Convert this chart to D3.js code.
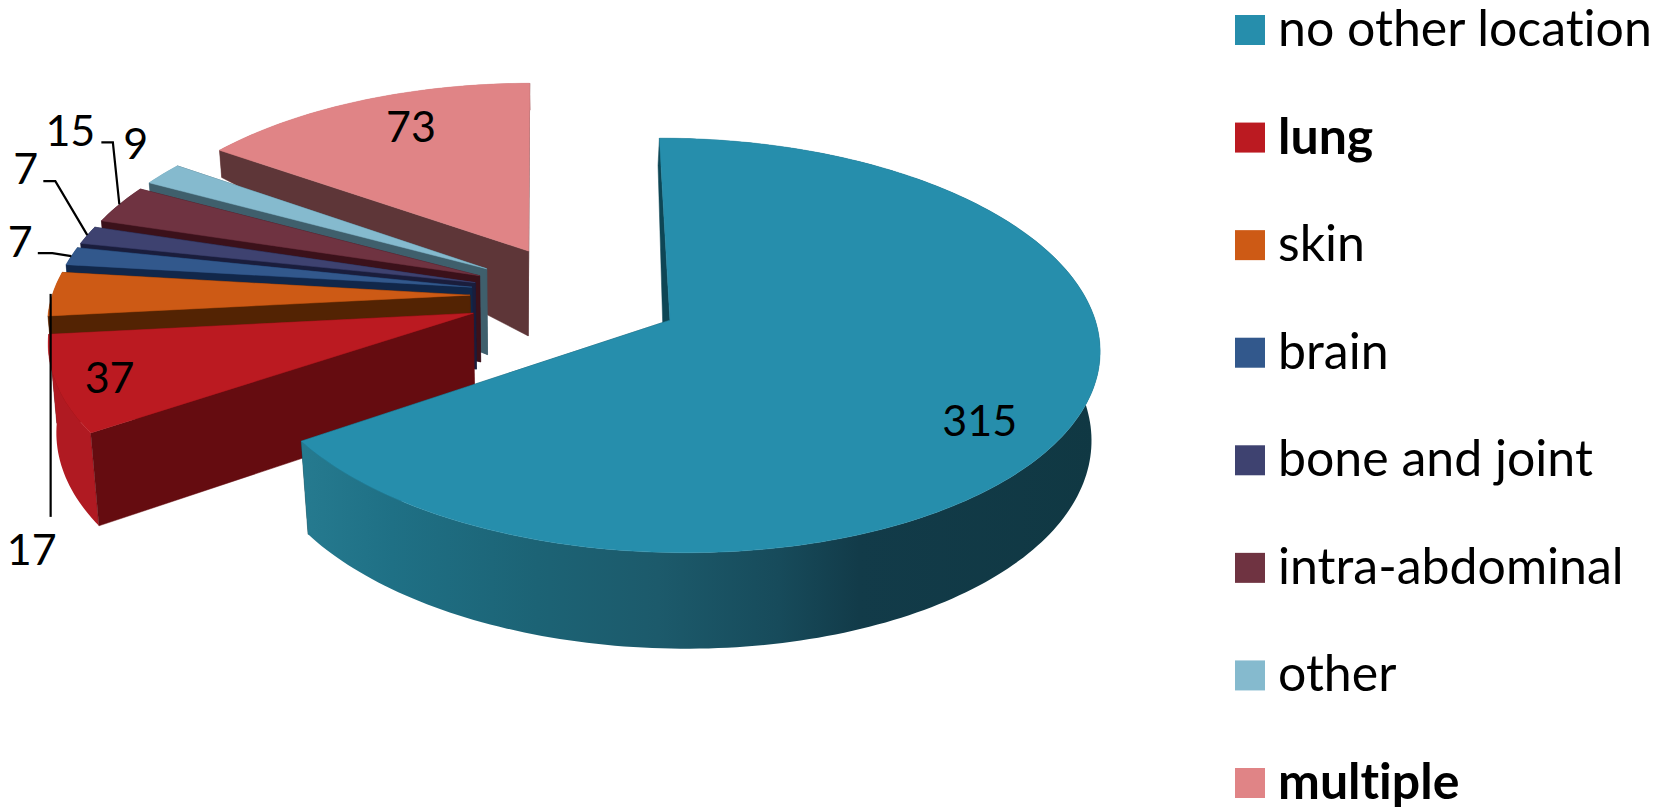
<!DOCTYPE html>
<html>
<head>
<meta charset="utf-8">
<style>
html, body { margin: 0; padding: 0; background: #fff; }
svg { display: block; }
text { font-family: Lato, "Open Sans", sans-serif; fill: #000; font-variant-ligatures: none; }
</style>
<script src="https://cdn.jsdelivr.net/npm/d3@7"></script>
</head>
<body>
<svg id="chart" width="1665" height="809"></svg>
<script>
// Metastasis sites, clockwise from twelve o'clock
const categories = ["no other location", "lung", "skin", "brain", "bone and joint", "intra-abdominal", "other", "multiple"];
const values = [315, 37, 17, 7, 7, 15, 9, 73];
const boldCategories = ["lung", "multiple"];

const topColors = ["#268eac", "#bb1a21", "#cd5a15", "#32588c", "#3e4270", "#6f3341", "#85bace", "#e08486"];
const wallColors = ["#0e4655", "#650c10", "#532303", "#11274a", "#1a1d3c", "#3b111a", "#3f5f6c", "#5e3638"];
const rimColors = ["url(#tealRim)", "#b01a22", "#a8480f", "#27466f", "#30345a", "#562833", "#6a95a5", "#b36a6c"];

// Text position relative to the middle of each slice's rim
const labelOffset = [[-94, -2], [53, -7], [-21, 256], [-51, -15], [-61.5, -67], [-49, -74], [-27, -31], [50, 26]];
// Leader lines as bends relative to the rim middle, listed from the text end
const leaderBends = [null, null, [[-2, 223], [-2, 0]], [[-33.5, -3], [-19, -3]], [[-44, -54], [-32, -54]], [[-18, -62], [-6.5, -62]], null, null];
// Small sideways correction of each slice's inner tip
const apexShift = [0, 3, 5, 5, 6, 5, 4, 4];

const explode = 0.26;

// Perspective view of the pie's ground plane
const view = { vx: 573, vy: 295.5, sx: 416, sy: 198, tiltX: 0.005, tiltY: 0.12 };
function project(X, Y) {
  const w = 1 - view.tiltX * X - view.tiltY * Y;
  return [view.vx + view.sx * X / w, view.vy + view.sy * Y / w];
}
// Extrusion height and sideways lean of the pie's walls
const depthAt = d3.scaleLinear().domain([-0.81, -0.23, 0.65, 1.12]).range([27, 85, 93, 96]).clamp(true);
const leanAt = d3.scaleLinear().domain([46, 296, 670, 1102]).range([8.5, 7, -5, -9]).clamp(true);
const rimLeanAt = d3.scaleLinear().domain([46, 296, 675, 1102]).range([8.5, 7, 0, -9]).clamp(true);

const pieces = d3.pie().sort(null).value(d => d).startAngle(0).endAngle(2 * Math.PI)(values);
const svg = d3.select("#chart");

const grad = svg.append("defs").append("linearGradient")
  .attr("id", "tealRim").attr("gradientUnits", "userSpaceOnUse")
  .attr("x1", 296).attr("x2", 1100).attr("y1", 0).attr("y2", 0);
[[0, "#267b90"], [0.12, "#1f7085"], [0.3, "#1c6375"], [0.45, "#1c5a6b"], [0.6, "#174b5b"], [0.7, "#123b49"], [1, "#103843"]]
  .forEach(([o, c]) => grad.append("stop").attr("offset", o).attr("stop-color", c));

const pathOf = d3.line().curve(d3.curveLinearClosed);

// Screen geometry of one slice: apex and rim points
function sliceGeometry(p, i) {
  const mid = (p.startAngle + p.endAngle) / 2;
  const ox = explode * Math.sin(mid), oy = -explode * Math.cos(mid);
  const place = (X, Y) => {
    const [x, y] = project(X, Y);
    return { x, y, Y };
  };
  const onRim = a => place(ox + Math.sin(a), oy - Math.cos(a));
  const steps = Math.max(2, Math.ceil((p.endAngle - p.startAngle) / 0.02));
  const rim = d3.range(steps + 1).map(k => onRim(p.startAngle + (p.endAngle - p.startAngle) * k / steps));
  const apex = place(ox, oy);
  apex.x += apexShift[i];
  return { apex, rim, rimMid: onRim(mid) };
}
const drop = (q, lean) => {
  const d = depthAt(q.Y);
  return [q.x + lean(q.x) * d / 93, q.y + d];
};
const floor = q => drop(q, leanAt);
const rimFloor = q => drop(q, rimLeanAt);
const xy = q => [q.x, q.y];

// Back slices first, the large front slice last
const order = d3.range(values.length).reverse();
const layer = svg.append("g");
const geometry = pieces.map(sliceGeometry);

order.forEach(i => {
  const g = geometry[i];
  const first = g.rim[0], last = g.rim[g.rim.length - 1];
  const group = layer.append("g");
  const wall = edge => group.append("path")
    .attr("d", pathOf([xy(g.apex), xy(edge), floor(edge), floor(g.apex)]))
    .attr("fill", wallColors[i]).attr("stroke", wallColors[i]).attr("stroke-width", 0.5);
  wall(last);
  group.append("path")
    .attr("d", pathOf(g.rim.map(xy).concat(g.rim.map(rimFloor).reverse())))
    .attr("fill", rimColors[i]);
  wall(first);
  group.append("path")
    .attr("d", pathOf([xy(g.apex)].concat(g.rim.map(xy))))
    .attr("fill", topColors[i]).attr("stroke", topColors[i]).attr("stroke-width", 0.5);
});

// Leader lines and value labels
const labelSize = 43;
values.forEach((v, i) => {
  const m = geometry[i].rimMid;
  if (leaderBends[i]) {
    const pts = leaderBends[i].map(([dx, dy]) => [m.x + dx, m.y + dy]);
    if (i !== 2) pts.push([m.x, m.y]);
    svg.append("path")
      .attr("d", d3.line()(pts))
      .attr("fill", "none").attr("stroke", "#000").attr("stroke-width", 2.2);
  }
  svg.append("text")
    .attr("x", m.x + labelOffset[i][0])
    .attr("y", m.y + labelOffset[i][1])
    .attr("dy", "0.36em")
    .attr("text-anchor", "middle")
    .attr("font-size", labelSize)
    .text(v);
});

// Legend column
const legendY = d3.scalePoint().domain(categories).range([30, 783]);
const legend = svg.append("g").selectAll("g").data(categories).join("g")
  .attr("transform", d => `translate(1235,${legendY(d)})`);
legend.append("rect")
  .attr("x", 0).attr("y", -15).attr("width", 30).attr("height", 30)
  .attr("fill", (d, i) => topColors[i]);
legend.append("text")
  .attr("x", 43).attr("y", 16)
  .attr("font-size", 50)
  .attr("font-weight", d => boldCategories.includes(d) ? 700 : 400)
  .text(d => d);
</script>
</body>
</html>
